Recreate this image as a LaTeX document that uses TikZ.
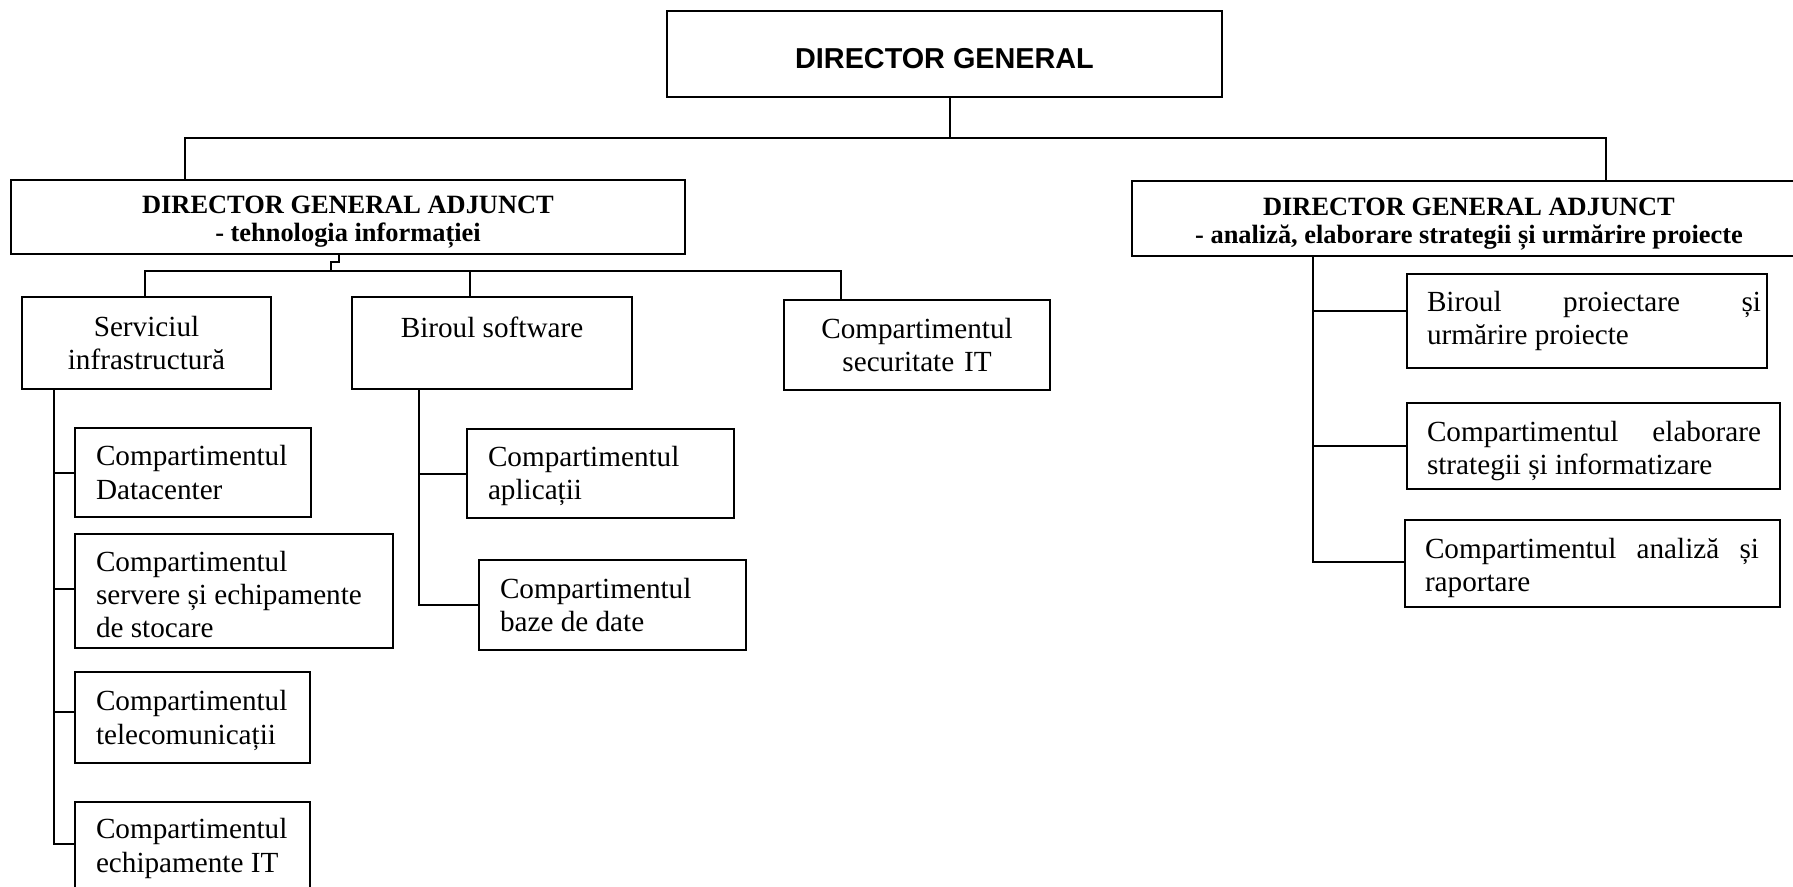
\documentclass[tikz,border=0pt]{standalone}
\usepackage{fontspec}
\setmainfont{Liberation Serif}
\newfontfamily\dgfont{Liberation Sans}
\newcommand\boxtext[5][0pt]{\makebox[#2][l]{\hspace*{#3}\parbox[c]{#4}{\vspace*{#1}#5}}}
\newcommand\headtext[1]{\parbox[b]{337pt}{\centering #1}}
\begin{document}
\begin{tikzpicture}[x=0.5pt,y=-0.5pt,
  box/.style={draw, line width=1pt, inner sep=0pt, outer sep=0pt},
  body/.style={font=\fontsize{14.6pt}{16.6pt}\selectfont},
  head/.style={font=\bfseries\fontsize{13.2pt}{14pt}\selectfont, text height=25pt, text depth=0pt},
  lnk/.style={line width=1pt}]
\useasboundingbox (0,0) rectangle (1793,887);

% top
\node[box, minimum width=277.5pt, minimum height=43pt, text height=14.3pt, text depth=0pt,
  font=\dgfont\bfseries\fontsize{14.4pt}{16pt}\selectfont] (dg) at (944.5,54) {DIRECTOR GENERAL};

\node[box, head, minimum width=337pt, minimum height=37pt] (dga1) at (348,217)
  {\headtext{DIRECTOR GENERAL ADJUNCT\\- tehnologia informației}};
\node[box, head, minimum width=337pt, minimum height=37.5pt] (dga2) at (1469,218.5)
  {\headtext{DIRECTOR GENERAL ADJUNCT\\- analiză, elaborare strategii și urmărire proiecte}};

% second level (left)
\node[box, body, align=center, text width=124.5pt, minimum height=46pt] (serv) at (146.5,343)
  {Serviciul\\infrastructură};
\node[box, body, minimum width=140pt, minimum height=46pt, text height=0pt, text depth=5.8pt] (birsw) at (492,343)
  {Biroul software};
\node[box, body, align=center, text width=133pt, minimum height=45pt] (sec) at (917,345)
  {Compartimentul\\securitate IT};

% infrastructure children
\node[box, body, minimum height=44.5pt] (dc) at (193,472.5)
  {\boxtext{118pt}{10.5pt}{105pt}{Compartimentul\\Datacenter}};
\node[box, body, minimum height=57pt] (srv) at (234,591)
  {\boxtext[3.4pt]{159pt}{10.5pt}{146pt}{Compartimentul\\servere și echipamente\\de stocare}};
\node[box, body, minimum height=45.5pt] (tel) at (192.5,717.5)
  {\boxtext[3pt]{117.5pt}{10.5pt}{105pt}{Compartimentul\\telecomunicații}};
\node[box, body, minimum height=45.5pt] (eit) at (192.5,847.5)
  {\boxtext[1pt]{117.5pt}{10.5pt}{105pt}{Compartimentul\\echipamente IT}};

% software children
\node[box, body, minimum height=44.5pt] (apl) at (600.5,473.5)
  {\boxtext[2.4pt]{133.5pt}{10.5pt}{120pt}{Compartimentul\\aplicații}};
\node[box, body, minimum height=45pt] (bd) at (612.5,605)
  {\boxtext{133.5pt}{10.5pt}{120pt}{Compartimentul\\baze de date}};

% right children
\node[box, body, minimum height=47pt] (bp) at (1587,321)
  {\boxtext{180pt}{10pt}{167pt}{Biroul\hfill proiectare\hfill și\\urmărire proiecte}};
\node[box, body, minimum height=43pt] (el) at (1593.5,446)
  {\boxtext[5pt]{186.5pt}{10pt}{167pt}{Compartimentul\hfill elaborare\\strategii și informatizare}};
\node[box, body, minimum height=43.5pt] (an) at (1592.5,563.5)
  {\boxtext[4.6pt]{187.5pt}{10pt}{167pt}{Compartimentul\hfill analiză\hfill și\\raportare}};

% connectors: top level
\coordinate (j0) at (950,138);
\draw[lnk] ([xshift=2.75pt]dg.south) -- (j0);
\draw[lnk] ([xshift=-81.5pt]dga1.north) |- (j0) -| ([xshift=68.5pt]dga2.north);

% left director to its units
\coordinate (j1) at (331,271);
\draw[lnk] ([xshift=-4.5pt]dga1.south) -- ++(0,8) -| (j1);
\draw[lnk] ([xshift=-0.75pt]serv.north) |- ([xshift=-38pt]sec.north |- j1) -- ([xshift=-38pt]sec.north);
\draw[lnk] ([xshift=-11pt]birsw.north) -- ([xshift=-11pt]birsw.north |- j1);

% infrastructure branch
\coordinate (v1) at ([xshift=-46.25pt]serv.south);
\path ([yshift=1.75pt]eit.west) coordinate (eitw);
\path ([yshift=2.75pt]tel.west) coordinate (telw);
\path ([yshift=1pt]srv.west) coordinate (srvw);
\draw[lnk] (v1) |- (eitw);
\draw[lnk] (v1 |- dc.west) -- (dc.west);
\draw[lnk] (v1 |- srvw) -- (srvw);
\draw[lnk] (v1 |- telw) -- (telw);

% software branch
\coordinate (v2) at ([xshift=-36.5pt]birsw.south);
\draw[lnk] (v2) |- (bd.west);
\draw[lnk] (v2 |- apl.west) -- (apl.west);

% right branch
\coordinate (v3) at ([xshift=-78pt]dga2.south);
\path ([yshift=5pt]bp.west) coordinate (bpw);
\path ([yshift=0.75pt]an.west) coordinate (anw);
\draw[lnk] (v3) |- (anw);
\draw[lnk] (v3 |- bpw) -- (bpw);
\draw[lnk] (v3 |- el.west) -- (el.west);
\end{tikzpicture}
\end{document}
